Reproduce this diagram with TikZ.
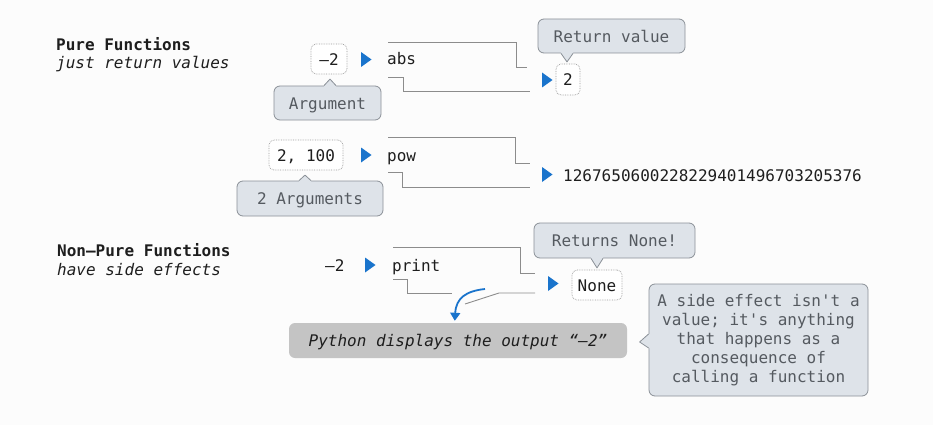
\documentclass[tikz,border=0pt]{standalone}
\usepackage{fontspec}
\setmonofont{DejaVu Sans Mono}
\usetikzlibrary{calc,arrows.meta}
\definecolor{bg}{HTML}{FCFCFC}
\definecolor{ink}{HTML}{1E1E1E}
\definecolor{cfill}{HTML}{DEE3E9}
\definecolor{cline}{HTML}{8A9097}
\definecolor{ctext}{HTML}{555A60}
\definecolor{pyfill}{HTML}{C4C4C4}
\definecolor{playblue}{HTML}{1A74CC}
\definecolor{wirec}{HTML}{8C8C8C}
\definecolor{dotline}{HTML}{9A9A9A}

% pointer of a speech bubble: base-left, tip, base-right, inward shift
\newcommand{\bubbleptr}[4]{%
  \fill[cfill] ($#1+#4$) -- #1 -- #2 -- #3 -- ($#3+#4$) -- cycle;
  \draw[cline, line width=0.8pt, line join=round] #1 -- #2 -- #3;
}

\tikzset{
  playmark/.pic={\fill[playblue] (0,-7.5) -- (10.5,0) -- (0,7.5) -- cycle;}
}

\begin{document}
\begin{tikzpicture}[x=1pt,y=-1pt,
  every node/.style={font=\ttfamily\fontsize{16}{19}\selectfont, text=ink, inner sep=0pt},
  label/.style={anchor=base west},
  callout/.style={draw=cline, fill=cfill, line width=0.8pt, rounded corners=6pt,
    text=ctext, text height=12.5pt, text depth=0pt},
  valbox/.style={draw=dotline, densely dotted, fill=white, rounded corners=5pt,
    text height=12.5pt, text depth=0pt, line width=0.7pt},
  wire/.style={draw=wirec, line width=0.9pt},
  ]
\fill[bg] (0,0) rectangle (933,425);
\useasboundingbox (0,0) rectangle (933,425);

% ---------- headings ----------
\node[label, font=\ttfamily\bfseries\fontsize{16}{19}\selectfont] (pureh) at (56,51) {Pure Functions};
\node[label, font=\ttfamily\itshape\fontsize{16}{19}\selectfont] (pures) at (56,69) {just return values};
\node[label, font=\ttfamily\bfseries\fontsize{16}{19}\selectfont] (nonh) at (57,256) {Non–Pure Functions};
\node[label, font=\ttfamily\itshape\fontsize{16}{19}\selectfont] (nons) at (57,275) {have side effects};

% ---------- abs ----------
\draw[wire] (388,42) -- (516,42) -- (516,67) -- (527,67);
\draw[wire] (388,77) -- (403,77) -- (403,91) -- (530,91);
\node[valbox, minimum width=36pt, minimum height=30pt] (absin) at (329,59) {–2};
\pic at (361,59.5) {playmark};
\node[label] (absf) at (387,65) {abs};
\pic at (542,80) {playmark};
\node[valbox, minimum width=24pt, minimum height=31pt] (absout) at (568,79.5) {2};

\node[callout, minimum width=107pt, minimum height=34pt] (arg) at (327.5,103) {Argument};
\bubbleptr{($(arg.north)+(-3.5,0)$)}{($(arg.north)+(2.5,-6.5)$)}{($(arg.north)+(8.5,0)$)}{(0,1.2)}

\node[callout, minimum width=147pt, minimum height=34pt] (ret) at (611.5,36) {Return value};
\bubbleptr{($(ret.south)+(-50.5,0)$)}{($(ret.south)+(-44.5,8.5)$)}{($(ret.south)+(-38.5,0)$)}{(0,-1.2)}

% ---------- pow ----------
\draw[wire] (388,137) -- (515,137) -- (515,163) -- (530,163);
\draw[wire] (388,172) -- (402,172) -- (402,187) -- (530,187);
\node[valbox, minimum width=74pt, minimum height=30pt] (powin) at (306,155) {2, 100};
\pic at (361,155) {playmark};
\node[label] (powf) at (387,161) {pow};
\pic at (542,174.5) {playmark};
\node[label] (powout) at (563,181) {1267650600228229401496703205376};

\node[callout, minimum width=146pt, minimum height=35pt] (args) at (310,198.5) {2 Arguments};
\bubbleptr{($(args.north)+(-11,0)$)}{($(args.north)+(-5,-5.5)$)}{($(args.north)+(1,0)$)}{(0,1.2)}

% ---------- print ----------
\draw[wire] (393,247) -- (520,247) -- (520,273) -- (535,273);
\draw[wire] (393,279) -- (407,279) -- (407,293) -- (452,293);
\draw[wire] (465,304) -- (499,293) -- (535,293);
\node[label] (prin) at (325,271) {–2};
\pic at (365,265) {playmark};
\node[label] (prf) at (392,271) {print};
\pic at (548,283.5) {playmark};
\node[valbox, minimum width=50pt, minimum height=30pt] (none) at (597,285) {None};

\node[callout, minimum width=161pt, minimum height=35pt] (retn) at (614.5,240.5) {Returns None!};
\bubbleptr{($(retn.south)+(-23.5,0)$)}{($(retn.south)+(-17.5,9.5)$)}{($(retn.south)+(-11.5,0)$)}{(0,-1.2)}

\node[fill=pyfill, rounded corners=6pt, minimum width=338pt, minimum height=35pt,
  text height=12.5pt, text depth=0pt, font=\ttfamily\itshape\fontsize{16}{19}\selectfont]
  (py) at (458,340.5) {Python displays the output “–2”};

\coordinate (fx) at (485,289);
\draw[playblue, line width=1.8pt, -{Triangle[width=10pt,length=8pt]}]
  (fx) .. controls (466,291) and (456,298) .. ($(py.north west)+(166,-2)$);

\node[callout, minimum width=219pt, minimum height=112pt, align=center,
  text height=, text depth=] (side) at (758.5,340)
  {A side effect isn't a\\value; it's anything\\that happens as a\\consequence of\\calling a function};
\bubbleptr{($(side.west)+(0,-6)$)}{($(side.west)+(-9,2)$)}{($(side.west)+(0,8)$)}{(1.2,0)}

\end{tikzpicture}
\end{document}
